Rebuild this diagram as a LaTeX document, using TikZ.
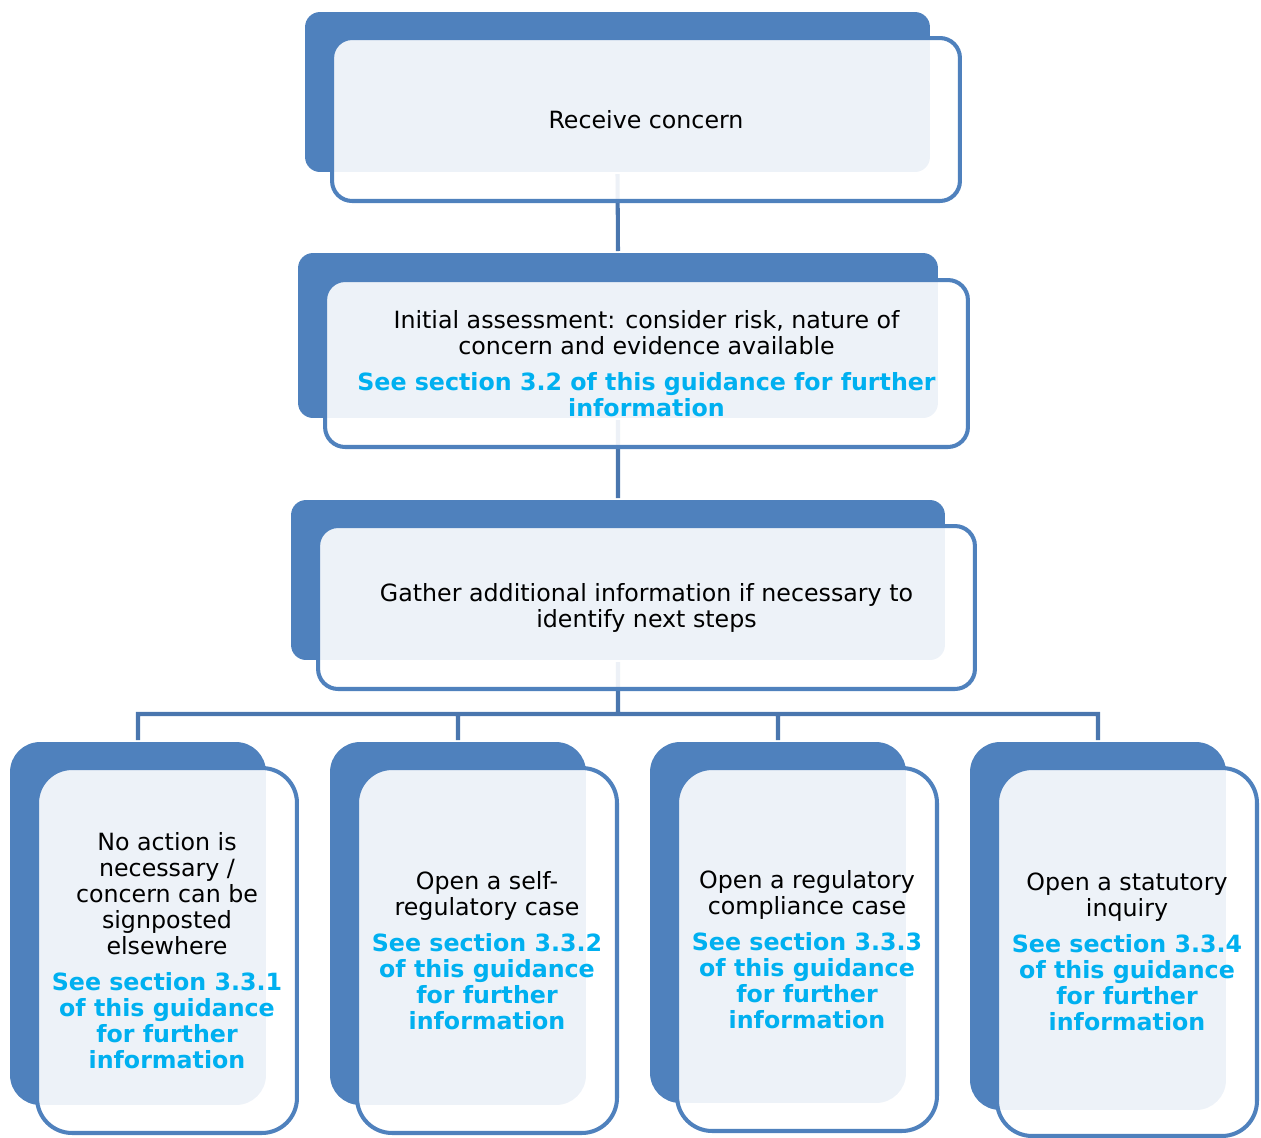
\documentclass[tikz,border=0pt]{standalone}
\usepackage{fontspec}
\setmainfont{DejaVu Sans}
\usepackage{tikz}
\usetikzlibrary{positioning}
\definecolor{boxblue}{HTML}{4F81BD}
\definecolor{linkblue}{HTML}{4A76AE}
\definecolor{seeblue}{HTML}{00B0F0}
\newcommand{\seesec}[1]{{\color{seeblue}\bfseries #1}}

\begin{document}
\begin{tikzpicture}[x=0.02cm,y=-0.02cm,line width=2.3pt]
\tikzstyle{back}=[fill=boxblue,rounded corners=0.3cm,inner sep=0pt]
\tikzstyle{backtall}=[back,rounded corners=0.6cm,minimum width=5.12cm]
\tikzstyle{front}=[draw=boxblue,fill=white,fill opacity=0.9,text opacity=1,rounded corners=0.4cm,inner sep=0pt,align=center,font=\fontsize{13.5}{14.8}\selectfont]
\tikzstyle{fronttall}=[front,rounded corners=0.7cm,minimum width=5.2cm]
\tikzstyle{link}=[draw=linkblue,line width=2.3pt]
\useasboundingbox (0,0) rectangle (1261,1137);
% blue backs
\node[back,minimum width=12.5cm,minimum height=3.2cm]	(R0)	at (617.5,92)	{};
\node[back,minimum width=12.8cm,minimum height=3.3cm]	(A0)	at (618,335.5)	{};
\node[back,minimum width=13.08cm,minimum height=3.2cm]	(G0)	at (618,580)	{};
\node[backtall,minimum height=7.26cm]	(N0)	at (138,923.5)	{};
\node[backtall,minimum height=7.26cm]	(S0)	at (458,923.5)	{};
\node[backtall,minimum height=7.22cm]	(C0)	at (778,922.5)	{};
\node[backtall,minimum height=7.36cm]	(I0)	at (1098,926)	{};
% connectors
\coordinate (bus) at (618,714);
\path[link]	(R0.south)	--	(A0.north)
	(A0.south)	--	(G0.north)
	(G0.south)	--	(bus)
	(bus)	-|	(N0.north)
	(bus)	-|	(S0.north)
	(bus)	-|	(C0.north)
	(bus)	-|	(I0.north);
% fronts with text
\node[front,minimum width=12.56cm,minimum height=3.26cm]	(R)	at (646,119.5)
	{Receive concern};
\node[front,minimum width=12.86cm,minimum height=3.34cm]	(A)	at (646.5,363.5)
	{Initial assessment: consider risk, nature of\\ concern and evidence available\\[5.5pt]
	\seesec{See section 3.2 of this guidance for further}\\ \seesec{information}};
\node[front,minimum width=13.14cm,minimum height=3.26cm]	(G)	at (646.5,607.5)
	{Gather additional information if necessary to\\ identify next steps};
\node[fronttall,minimum height=7.3cm]	(N)	at (167,950.5)
	{No action is\\ necessary /\\ concern can be\\ signposted\\ elsewhere\\[5.5pt]
	\seesec{See section 3.3.1}\\ \seesec{of this guidance}\\ \seesec{for further}\\ \seesec{information}};
\node[fronttall,minimum height=7.3cm]	(S)	at (487,950.5)
	{Open a self-\\ regulatory case\\[5.5pt]
	\seesec{See section 3.3.2}\\ \seesec{of this guidance}\\ \seesec{for further}\\ \seesec{information}};
\node[fronttall,minimum height=7.26cm]	(C)	at (807,949.5)
	{Open a regulatory\\ compliance case\\[5.5pt]
	\seesec{See section 3.3.3}\\ \seesec{of this guidance}\\ \seesec{for further}\\ \seesec{information}};
\node[fronttall,minimum height=7.36cm]	(I)	at (1127,952)
	{Open a statutory\\ inquiry\\[5.5pt]
	\seesec{See section 3.3.4}\\ \seesec{of this guidance}\\ \seesec{for further}\\ \seesec{information}};
\end{tikzpicture}
\end{document}
